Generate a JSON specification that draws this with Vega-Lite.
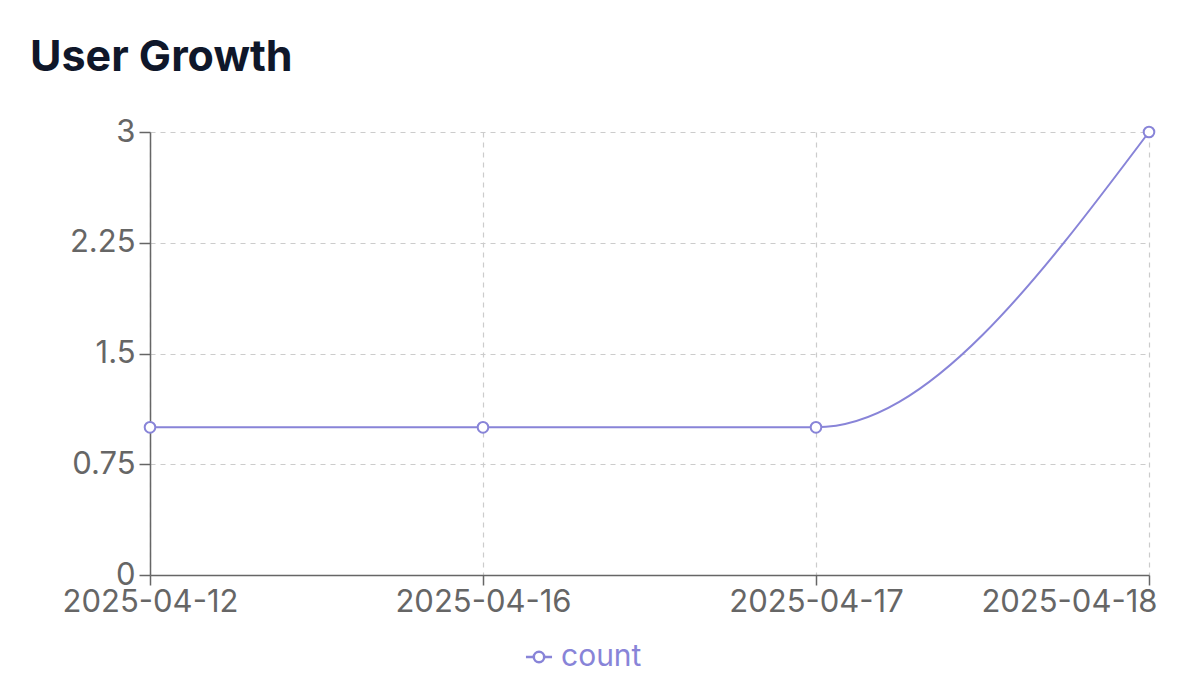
{
  "$schema": "https://vega.github.io/schema/vega-lite/v6.json",
  "width": 999,
  "height": 443,
  "autosize": {"type": "none"},
  "padding": {"left": 150, "top": 132, "right": 51, "bottom": 120},
  "background": "white",
  "title": {
    "text": "User Growth",
    "anchor": "start",
    "frame": "group",
    "dx": -120,
    "offset": 2,
    "font": "Inter",
    "fontSize": 43,
    "fontWeight": "bold",
    "color": "#0f172a",
    "baseline": "alphabetic"
  },
  "data": {
    "values": [
      {"date": "2025-04-12", "count": 1},
      {"date": "2025-04-16", "count": 1},
      {"date": "2025-04-17", "count": 1},
      {"date": "2025-04-18", "count": 3}
    ]
  },
  "config": {
    "view": {"stroke": null},
    "font": "Inter",
    "axis": {
      "domainColor": "#666666",
      "domainWidth": 1.5,
      "tickColor": "#666666",
      "tickWidth": 1.5,
      "labelColor": "#666666",
      "labelFont": "Inter",
      "labelFontSize": 31,
      "gridColor": "#cccccc",
      "gridDash": [5, 5],
      "gridWidth": 1.2,
      "title": null
    }
  },
  "encoding": {
    "x": {
      "field": "date",
      "type": "ordinal",
      "scale": {"type": "point", "padding": 0},
      "axis": {
        "labelAngle": 0,
        "tickSize": 10,
        "labelPadding": 2,
        "grid": true,
        "labelAlign": {"condition": {"test": "datum.value == '2025-04-18'", "value": "right"}, "value": "center"},
        "labelOffset": {"condition": {"test": "datum.value == '2025-04-18'", "value": 8}, "value": 0}
      }
    },
    "y": {
      "field": "count",
      "type": "quantitative",
      "scale": {"domain": [0, 3], "nice": false},
      "axis": {"values": [0, 0.75, 1.5, 2.25, 3], "format": ".2~f", "tickSize": 11, "labelPadding": 4, "grid": true}
    },
    "color": {
      "datum": "count",
      "type": "nominal",
      "scale": {"range": ["#8884d8"]},
      "legend": {
        "orient": "none",
        "legendX": 374,
        "legendY": 510,
        "title": null,
        "labelColor": "#8884d8",
        "labelFont": "Inter",
        "labelFontSize": 30,
        "symbolType": "M -1 0 L -0.4 0 M 0.4 0 L 1 0 M -0.4 0 A 0.4 0.4 0 1 1 0.4 0 A 0.4 0.4 0 1 1 -0.4 0",
        "symbolSize": 680,
        "symbolFillColor": "white",
        "symbolStrokeColor": "#8884d8",
        "symbolStrokeWidth": 2.5,
        "labelOffset": 7
      }
    }
  },
  "layer": [
    {
      "mark": {"type": "line", "interpolate": "monotone", "strokeWidth": 2}
    },
    {
      "mark": {"type": "point", "filled": false, "fill": "white", "size": 113, "strokeWidth": 2, "opacity": 1}
    }
  ]
}
